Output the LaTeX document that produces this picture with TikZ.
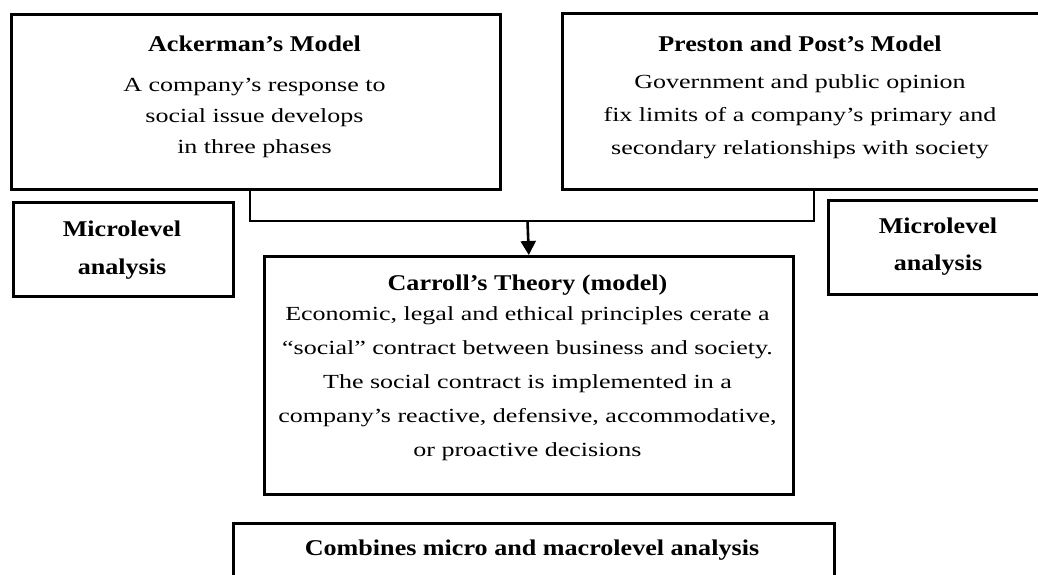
\documentclass[tikz,border=0pt]{standalone}
\usepackage{fontspec}
\setmainfont{Liberation Serif}
\newfontfamily\bodyf{Liberation Serif}[FakeStretch=1.3]
\newfontfamily\boldf{Liberation Serif}[FakeStretch=1.16]
\usetikzlibrary{arrows.meta}
\begin{document}
\begin{tikzpicture}[x=1pt,y=1pt,
  box/.style={draw, line width=2.6pt, rectangle, inner sep=0pt, anchor=north west},
  body/.style={font=\bodyf\fontsize{20}{#1}\selectfont, align=center, inner sep=0pt, anchor=base},
  body/.default=31,
  ttl/.style={font=\boldf\bfseries\fontsize{22.5}{30}\selectfont, inner sep=0pt, anchor=base},
  micro/.style={font=\boldf\bfseries\fontsize{22.5}{#1}\selectfont, align=center, inner sep=0pt, anchor=base},
  micro/.default=38,
  wire/.style={line width=2.6pt}]
\useasboundingbox (0,0) rectangle (1038,-574);
\clip (0,0) rectangle (1038,-574);
% boxes
\node[box, minimum width=489pt, minimum height=175pt] (ack) at (10,-13) {};
\node[box, minimum width=480pt, minimum height=176pt] (pp) at (561,-12) {};
\node[box, minimum width=220pt, minimum height=94pt] (mL) at (12,-201) {};
\node[box, minimum width=222pt, minimum height=94pt] (mR) at (827,-199) {};
\node[box, minimum width=529pt, minimum height=238pt] (car) at (263,-255) {};
\node[box, minimum width=601pt, minimum height=80pt] (comb) at (232,-522) {};
% texts (multi-line nodes are anchored on the baseline of their last line)
\node[ttl] (ackT) at (254.5,-51) {Ackerman’s Model};
\node[body=31] (ackB) at (254.5,-153) {A company’s response to\\ social issue develops\\ in three phases};
\node[ttl] (ppT) at (800,-51) {Preston and Post’s Model};
\node[body=33] (ppB) at (800,-154) {Government and public opinion\\ fix limits of a company’s primary and\\ secondary relationships with society};
\node[micro=38] (mLT) at (122,-274) {Microlevel\\ analysis};
\node[micro=37] (mRT) at (938,-270) {Microlevel\\ analysis};
\node[ttl] (carT) at (527.5,-290) {Carroll’s Theory (model)};
\node[body=34] (carB) at (527.5,-456) {Economic, legal and ethical principles cerate a\\ “social” contract between business and society.\\ The social contract is implemented in a\\ company’s reactive, defensive, accommodative,\\ or proactive decisions};
\node[ttl] (combT) at (532,-555) {Combines micro and macrolevel analysis};
% connectors
\coordinate (j) at (527.5,-221);
\draw[wire] ([xshift=240pt]ack.south west) |- (j) -| ([xshift=253pt]pp.south west);
\draw[wire, -{Triangle[width=15pt,length=14pt]}] (j) -- (car.north);
\end{tikzpicture}
\end{document}
